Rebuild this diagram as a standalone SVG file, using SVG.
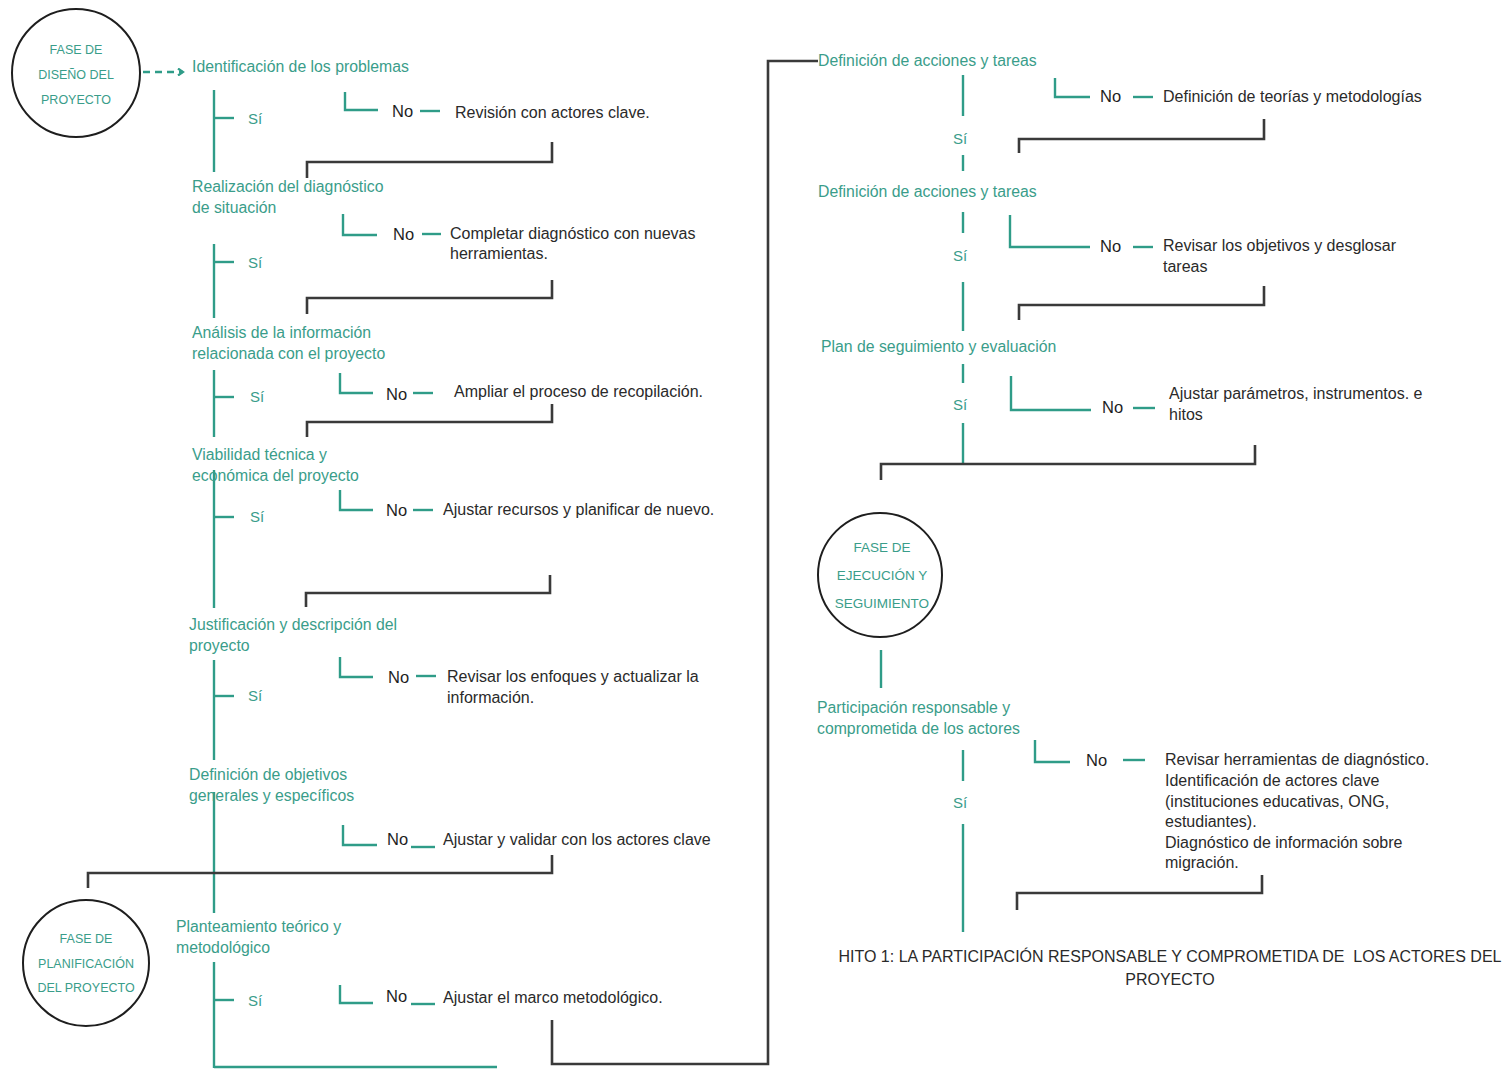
<svg xmlns="http://www.w3.org/2000/svg" width="1503" height="1069" viewBox="0 0 1503 1069">
  <style>
    text { font-family: "Liberation Sans", "Open Sans", sans-serif; }
    .t { fill: #3a9d8a; font-size: 15.8px; }
    .b { fill: #2a2a2a; font-size: 16px; }
    .no { fill: #1e1e1e; font-size: 16.5px; }
    .si { fill: #3a9d8a; font-size: 15px; }
    .ph { fill: #3a9d8a; font-size: 12.5px; text-anchor: middle; }
    .hito { fill: #2a2a2a; font-size: 16px; text-anchor: middle; white-space: pre; }
    .tl { stroke: #2f9c88; stroke-width: 2.4; fill: none; }
    .dk { stroke: #3a3a3a; stroke-width: 2.6; fill: none; }
    .ring { stroke: #1e1e1e; stroke-width: 2; fill: #fff; }
  </style>
  <defs>
    <marker id="arrow" markerWidth="8" markerHeight="8" refX="6" refY="4" orient="auto" markerUnits="userSpaceOnUse">
      <path d="M1,0.5 L6,4 L1,7.5" fill="none" stroke="#2f9c88" stroke-width="2.2"/>
    </marker>
  </defs>
  <rect width="1503" height="1069" fill="#fff"/>

  <!-- connectors -->
  <g id="connectors">
    <!-- dashed entry arrow -->
    <line x1="143" y1="72" x2="183" y2="72" class="tl" stroke-dasharray="7,5" marker-end="url(#arrow)"/>

    <!-- left trunk -->
    <line class="tl" x1="214" y1="90" x2="214" y2="172"/>
    <line class="tl" x1="214" y1="244" x2="214" y2="318"/>
    <line class="tl" x1="214" y1="370" x2="214" y2="437"/>
    <line class="tl" x1="214" y1="470" x2="214" y2="608"/>
    <line class="tl" x1="214" y1="660" x2="214" y2="760"/>
    <line class="tl" x1="214" y1="792" x2="214" y2="913"/>
    <line class="tl" x1="214" y1="962" x2="214" y2="1068"/>
    <line class="tl" x1="214" y1="1067" x2="497" y2="1067"/>

    <!-- Sí ticks -->
    <line class="tl" x1="214" y1="118" x2="234" y2="118"/>
    <line class="tl" x1="214" y1="262" x2="234" y2="262"/>
    <line class="tl" x1="214" y1="397" x2="234" y2="397"/>
    <line class="tl" x1="214" y1="517" x2="234" y2="517"/>
    <line class="tl" x1="214" y1="696" x2="234" y2="696"/>
    <line class="tl" x1="214" y1="1000" x2="234" y2="1000"/>

    <!-- No branches, left -->
    <path class="tl" d="M345,92 V110 H378"/>
    <line class="tl" x1="420" y1="111" x2="440" y2="111"/>
    <path class="tl" d="M343,214 V235 H377"/>
    <line class="tl" x1="422" y1="234" x2="441" y2="234"/>
    <path class="tl" d="M340,373 V393 H373"/>
    <line class="tl" x1="413" y1="393" x2="433" y2="393"/>
    <path class="tl" d="M340,490 V510 H373"/>
    <line class="tl" x1="413" y1="510" x2="433" y2="510"/>
    <path class="tl" d="M340,657 V677 H373"/>
    <line class="tl" x1="416" y1="676" x2="436" y2="676"/>
    <path class="tl" d="M343,825 V845 H377"/>
    <line class="tl" x1="411" y1="847" x2="435" y2="847"/>
    <path class="tl" d="M340,985 V1003 H373"/>
    <line class="tl" x1="411" y1="1004" x2="435" y2="1004"/>

    <!-- return brackets, left -->
    <path class="dk" d="M307,178 V162 H552 V142"/>
    <path class="dk" d="M307,314 V298 H552 V280"/>
    <path class="dk" d="M307,437 V422 H552 V404"/>
    <path class="dk" d="M306,607 V593 H550 V575"/>
    <path class="dk" d="M88,888 V873 H552 V855"/>
    <path class="dk" d="M552,1020 V1064 H768 V61 H818"/>

    <!-- right trunk -->
    <line class="tl" x1="963" y1="75" x2="963" y2="116"/>
    <line class="tl" x1="963" y1="155" x2="963" y2="171"/>
    <line class="tl" x1="963" y1="212" x2="963" y2="233"/>
    <line class="tl" x1="963" y1="282" x2="963" y2="331"/>
    <line class="tl" x1="963" y1="364" x2="963" y2="383"/>
    <line class="tl" x1="963" y1="423" x2="963" y2="465"/>

    <!-- No branches, right -->
    <path class="tl" d="M1055,78 V97 H1090"/>
    <line class="tl" x1="1133" y1="97" x2="1153" y2="97"/>
    <path class="tl" d="M1010,215 V247 H1090"/>
    <line class="tl" x1="1133" y1="247" x2="1153" y2="247"/>
    <path class="tl" d="M1011,376 V410 H1091"/>
    <line class="tl" x1="1133" y1="408" x2="1155" y2="408"/>
    <path class="tl" d="M1035,740 V762 H1070"/>
    <line class="tl" x1="1123" y1="760" x2="1145" y2="760"/>

    <!-- return brackets, right -->
    <path class="dk" d="M1019,153 V139 H1264 V119"/>
    <path class="dk" d="M1019,320 V305 H1264 V286"/>
    <path class="dk" d="M881,480 V464 H1255 V445"/>
    <path class="dk" d="M1017,910 V893 H1262 V875"/>

    <!-- execution phase trunk -->
    <line class="tl" x1="881" y1="650" x2="881" y2="688"/>
    <line class="tl" x1="963" y1="750" x2="963" y2="781"/>
    <line class="tl" x1="963" y1="824" x2="963" y2="932"/>
  </g>

  <!-- phase circles -->
  <g id="fase-diseno">
    <circle class="ring" cx="76" cy="73" r="64"/>
    <text class="ph" x="76" y="54">FASE DE</text>
    <text class="ph" x="76" y="79">DISEÑO DEL</text>
    <text class="ph" x="76" y="104">PROYECTO</text>
  </g>
  <g id="fase-planificacion">
    <circle class="ring" cx="86" cy="963" r="63"/>
    <text class="ph" x="86" y="943">FASE DE</text>
    <text class="ph" x="86" y="968">PLANIFICACIÓN</text>
    <text class="ph" x="86" y="992">DEL PROYECTO</text>
  </g>
  <g id="fase-ejecucion">
    <circle class="ring" cx="880" cy="575" r="62"/>
    <text class="ph" x="882" y="552" style="font-size:13.5px">FASE DE</text>
    <text class="ph" x="882" y="580" style="font-size:13.5px">EJECUCIÓN Y</text>
    <text class="ph" x="882" y="608" style="font-size:13.5px">SEGUIMIENTO</text>
  </g>

  <!-- left steps -->
  <g id="identificacion">
    <text class="t" x="192" y="72">Identificación de los problemas</text>
  </g>
  <g id="si-1"><text class="si" x="248" y="124">Sí</text></g>
  <g id="no-1">
    <text class="no" x="392" y="117">No</text>
    <text class="b" x="455" y="118">Revisión con actores clave.</text>
  </g>

  <g id="diagnostico">
    <text class="t" x="192" y="192">Realización del diagnóstico</text>
    <text class="t" x="192" y="213">de situación</text>
  </g>
  <g id="si-2"><text class="si" x="248" y="268">Sí</text></g>
  <g id="no-2">
    <text class="no" x="393" y="240">No</text>
    <text class="b" x="450" y="239">Completar diagnóstico con nuevas</text>
    <text class="b" x="450" y="259">herramientas.</text>
  </g>

  <g id="analisis">
    <text class="t" x="192" y="338">Análisis de la información</text>
    <text class="t" x="192" y="359">relacionada con el proyecto</text>
  </g>
  <g id="si-3"><text class="si" x="250" y="402">Sí</text></g>
  <g id="no-3">
    <text class="no" x="386" y="400">No</text>
    <text class="b" x="454" y="397">Ampliar el proceso de recopilación.</text>
  </g>

  <g id="viabilidad">
    <text class="t" x="192" y="460">Viabilidad técnica y</text>
    <text class="t" x="192" y="481">económica del proyecto</text>
  </g>
  <g id="si-4"><text class="si" x="250" y="522">Sí</text></g>
  <g id="no-4">
    <text class="no" x="386" y="516">No</text>
    <text class="b" x="443" y="515">Ajustar recursos y planificar de nuevo.</text>
  </g>

  <g id="justificacion">
    <text class="t" x="189" y="630">Justificación y descripción del</text>
    <text class="t" x="189" y="651">proyecto</text>
  </g>
  <g id="si-5"><text class="si" x="248" y="701">Sí</text></g>
  <g id="no-5">
    <text class="no" x="388" y="683">No</text>
    <text class="b" x="447" y="682">Revisar los enfoques y actualizar la</text>
    <text class="b" x="447" y="703">información.</text>
  </g>

  <g id="objetivos">
    <text class="t" x="189" y="780">Definición de objetivos</text>
    <text class="t" x="189" y="801">generales y específicos</text>
  </g>
  <g id="no-6">
    <text class="no" x="387" y="845">No</text>
    <text class="b" x="443" y="845">Ajustar y validar con los actores clave</text>
  </g>

  <g id="planteamiento">
    <text class="t" x="176" y="932">Planteamiento teórico y</text>
    <text class="t" x="176" y="953">metodológico</text>
  </g>
  <g id="si-6"><text class="si" x="248" y="1006">Sí</text></g>
  <g id="no-7">
    <text class="no" x="386" y="1002">No</text>
    <text class="b" x="443" y="1003">Ajustar el marco metodológico.</text>
  </g>

  <!-- right steps -->
  <g id="acciones-1">
    <text class="t" x="818" y="66">Definición de acciones y tareas</text>
  </g>
  <g id="si-r1"><text class="si" x="953" y="144">Sí</text></g>
  <g id="no-r1">
    <text class="no" x="1100" y="102">No</text>
    <text class="b" x="1163" y="102">Definición de teorías y metodologías</text>
  </g>

  <g id="acciones-2">
    <text class="t" x="818" y="197">Definición de acciones y tareas</text>
  </g>
  <g id="si-r2"><text class="si" x="953" y="261">Sí</text></g>
  <g id="no-r2">
    <text class="no" x="1100" y="252">No</text>
    <text class="b" x="1163" y="251">Revisar los objetivos y desglosar</text>
    <text class="b" x="1163" y="272">tareas</text>
  </g>

  <g id="seguimiento">
    <text class="t" x="821" y="352">Plan de seguimiento y evaluación</text>
  </g>
  <g id="si-r3"><text class="si" x="953" y="410">Sí</text></g>
  <g id="no-r3">
    <text class="no" x="1102" y="413">No</text>
    <text class="b" x="1169" y="399">Ajustar parámetros, instrumentos. e</text>
    <text class="b" x="1169" y="420">hitos</text>
  </g>

  <g id="participacion">
    <text class="t" x="817" y="713">Participación responsable y</text>
    <text class="t" x="817" y="734">comprometida de los actores</text>
  </g>
  <g id="si-r4"><text class="si" x="953" y="808">Sí</text></g>
  <g id="no-r4">
    <text class="no" x="1086" y="766">No</text>
    <text class="b" x="1165" y="765">Revisar herramientas de diagnóstico.</text>
    <text class="b" x="1165" y="786">Identificación de actores clave</text>
    <text class="b" x="1165" y="807">(instituciones educativas, ONG,</text>
    <text class="b" x="1165" y="827">estudiantes).</text>
    <text class="b" x="1165" y="848">Diagnóstico de información sobre</text>
    <text class="b" x="1165" y="868">migración.</text>
  </g>

  <g id="hito-1">
    <text class="hito" x="1170" y="962" xml:space="preserve">HITO 1: LA PARTICIPACIÓN RESPONSABLE Y COMPROMETIDA DE  LOS ACTORES DEL</text>
    <text class="hito" x="1170" y="985">PROYECTO</text>
  </g>
</svg>
